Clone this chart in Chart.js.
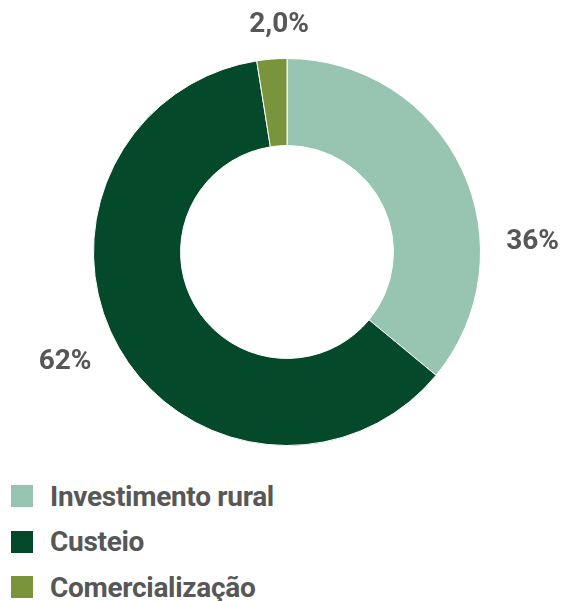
<!DOCTYPE html>
<html>
<head>
<meta charset="utf-8">
<script src="https://cdn.jsdelivr.net/npm/chart.js@4/dist/chart.umd.min.js"></script>
<style>
  html,body{margin:0;padding:0;background:#fff;}
  body{width:562px;height:601px;overflow:hidden;position:relative;}
  #wrap{position:absolute;left:0;top:0;width:562px;height:470px;}
  #legend{position:absolute;left:11px;top:485px;}
  .item{display:flex;align-items:center;height:22px;margin-bottom:23.5px;
    font:bold 28px Roboto,sans-serif;color:#575757;letter-spacing:-0.3px;}
  .box{width:22px;height:22px;margin-right:17px;flex:none;}
</style>
</head>
<body>
<div id="wrap"><canvas id="c"></canvas></div>
<div id="legend"></div>
<script>
const categories = ["Investimento rural", "Custeio", "Comercialização"];
const shares = [36, 61.5, 2.5];
const shareLabels = ["36%", "62%", "2,0%"];
const colors = ["#98c5b2", "#05492b", "#79943b"];

// label placement: angle from top (deg, clockwise) and distance as a factor of outer radius
const labelPos = [[87.7, 1.27], [243.6, 1.28], [358, 1.175]];

const FONT = "Roboto,sans-serif";

const outsideLabels = {
  id: "outsideLabels",
  afterDraw(chart){
    const ctx = chart.ctx;
    const arc = chart.getDatasetMeta(0).data[0];
    const cx = arc.x, cy = arc.y, r = arc.outerRadius;
    ctx.save();
    ctx.font = "bold 28px " + FONT;
    ctx.fillStyle = "#575757";
    ctx.textAlign = "center"; ctx.textBaseline = "middle";
    shareLabels.forEach((t,i)=>{
      const a = labelPos[i][0]*Math.PI/180, d = labelPos[i][1]*r;
      ctx.fillText(t, cx + Math.sin(a)*d, cy - Math.cos(a)*d);
    });
    ctx.restore();
  }
};

new Chart(document.getElementById("c"), {
  type: "doughnut",
  data: {
    labels: categories,
    datasets: [{data: shares, backgroundColor: colors, borderColor: "#fff", borderWidth: 1, hoverOffset: 0}]
  },
  options: {
    responsive: true, maintainAspectRatio: false, animation: false,
    cutout: "55%",
    layout: {padding: {left: 12, top: 58, bottom: 24}},
    plugins: {legend: {display: false}, tooltip: {enabled: false}}
  },
  plugins: [outsideLabels]
});

const lg = document.getElementById("legend");
categories.forEach((c,i)=>{
  lg.insertAdjacentHTML("beforeend", `<div class="item"><span class="box" style="background:${colors[i]}"></span>${c}</div>`);
});
</script>
</body>
</html>
